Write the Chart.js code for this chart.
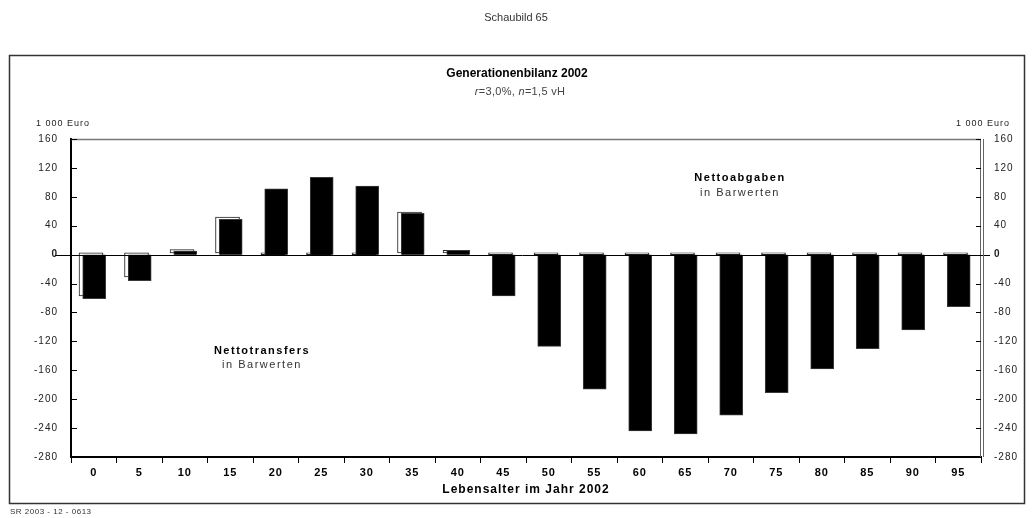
<!DOCTYPE html>
<html><head><meta charset="utf-8">
<script src="https://cdn.jsdelivr.net/npm/chart.js@4.4.0/dist/chart.umd.min.js"></script>
<style>html,body{margin:0;padding:0;background:#fff}#wrap{position:relative;width:1032px;height:518px}</style>
</head><body><div id="wrap"><canvas id="c" width="1032" height="518"></canvas></div>
<script>
// ---- data ----
const ageLabels = ['0','5','10','15','20','25','30','35','40','45','50','55','60','65','70','75','80','85','90','95'];
const nettoBlack = [-61,-36,5,49,91,107,95,57,6,-57,-127,-186,-244,-248,-222,-191,-158,-130,-104,-72];
const nettoWhite = [-57,-31,7,52,0,0,0,59,6,0,0,0,0,0,0,0,0,0,0,0];
const yTickValues = [160,120,80,40,0,-40,-80,-120,-160,-200,-240,-280];
const texts = {
  header: 'Schaubild 65',
  title: 'Generationenbilanz 2002',
  unit: '1 000 Euro',
  xTitle: 'Lebensalter im Jahr 2002',
  posLabel: 'Nettoabgaben',
  negLabel: 'Nettotransfers',
  subLabel: 'in Barwerten',
  code: 'SR 2003 - 12 - 0613'
};

// ---- style constants ----
const FONT = "'Liberation Sans', Arial, sans-serif";
const WHITE_SHIFT = -0.06, BLACK_SHIFT = 0.01, WHITE_BASE = 2.5;

Chart.defaults.font.family = FONT;

const decor = {
  id: 'decor',
  beforeLayout(chart){ chart.ctx.letterSpacing = '1px'; },
  beforeDraw(chart){
    const c = chart.ctx;
    c.save();
    c.fillStyle = '#fff'; c.fillRect(0,0,chart.width,chart.height);
    c.strokeStyle = '#333'; c.lineWidth = 1.5;
    c.strokeRect(9.5, 55.5, 1015, 448);
    c.restore();
  },
  afterDatasetsDraw(chart){
    const c = chart.ctx, a = chart.chartArea, y = chart.scales.y;
    c.save();
    const z = Math.round(y.getPixelForValue(0)) + 0.5;
    c.strokeStyle = '#000'; c.lineWidth = 1;
    c.beginPath(); c.moveTo(a.left - 16, z); c.lineTo(a.right + 9, z); c.stroke();
    c.strokeStyle = '#777'; c.lineWidth = 1.5;
    c.beginPath(); c.moveTo(a.left, a.top + 0.5); c.lineTo(a.right, a.top + 0.5); c.stroke();
    c.strokeStyle = '#666'; c.lineWidth = 1;
    c.beginPath(); c.moveTo(a.right - 0.5, a.top); c.lineTo(a.right - 0.5, a.bottom);
    c.moveTo(a.right + 2.5, a.top); c.lineTo(a.right + 2.5, a.bottom); c.stroke();
    c.strokeStyle = '#000'; c.lineWidth = 1;
    c.beginPath();
    y.ticks.forEach(t => {
      const p = Math.round(y.getPixelForValue(t.value)) + 0.5;
      c.moveTo(a.left, p); c.lineTo(a.left + 6, p);
      c.moveTo(a.right - 5, p); c.lineTo(a.right, p);
    });
    c.stroke();
    c.restore();
  },
  afterDraw(chart){
    const c = chart.ctx;
    c.save();
    c.textBaseline = 'middle';
    c.fillStyle = '#333';
    c.letterSpacing = '0px';
    c.textAlign = 'center';
    c.font = "11px " + FONT;
    c.fillText(texts.header, 516, 18);
    c.fillStyle = '#000';
    c.font = "bold 12px " + FONT;
    c.letterSpacing = '0px';
    c.fillText(texts.title, 517, 74);
    c.fillStyle = '#444';
    c.letterSpacing = '0.3px';
    const parts = [['italic 11px ', 'r'], ['11px ', '=3,0%, '], ['italic 11px ', 'n'], ['11px ', '=1,5 vH']];
    let w = 0;
    parts.forEach(p => { c.font = p[0] + FONT; w += c.measureText(p[1]).width; });
    let x = 520 - w/2;
    c.textAlign = 'left';
    parts.forEach(p => { c.font = p[0] + FONT; c.fillText(p[1], x, 92); x += c.measureText(p[1]).width; });
    c.fillStyle = '#222';
    c.font = "9px " + FONT;
    c.letterSpacing = '1px';
    c.textAlign = 'left';
    c.fillText(texts.unit, 36, 124);
    c.textAlign = 'right';
    c.fillText(texts.unit, 1010, 124);
    c.textAlign = 'center';
    c.fillStyle = '#000';
    c.font = "bold 11px " + FONT;
    c.letterSpacing = '1.5px';
    c.fillText(texts.posLabel, 740, 178);
    c.fillText(texts.negLabel, 262, 351);
    c.fillStyle = '#333';
    c.font = "11px " + FONT;
    c.letterSpacing = '1.5px';
    c.fillText(texts.subLabel, 740, 193);
    c.fillText(texts.subLabel, 262, 365);
    c.textAlign = 'left';
    c.fillStyle = '#333';
    c.font = "8px " + FONT;
    c.letterSpacing = '0.5px';
    c.fillText(texts.code, 10, 512);
    c.restore();
  }
};

new Chart(document.getElementById('c'), {
  type: 'bar',
  data: {
    labels: ageLabels,
    datasets: [
      { label: 'schwarz', data: nettoBlack.map((v,i) => ({x: i + BLACK_SHIFT, y: v})),
        xAxisID: 'xl', yAxisID: 'y', backgroundColor: '#000', borderColor: '#3a3a3a', borderWidth: 1,
        barThickness: 23, grouped: false, order: 0 },
      { label: 'weiss', data: nettoWhite.map((v,i) => ({x: i + WHITE_SHIFT, y: v})),
        xAxisID: 'xl', yAxisID: 'y', base: WHITE_BASE, backgroundColor: '#fff', borderColor: '#222', borderWidth: 1,
        borderSkipped: false, barThickness: 24, grouped: false, order: 1 }
    ]
  },
  options: {
    responsive: false, animation: false, devicePixelRatio: 1,
    layout: { padding: { top: 139, bottom: 21, left: 0, right: 0 } },
    plugins: { legend: { display: false }, tooltip: { enabled: false }, title: { display: false } },
    scales: {
      x: { type: 'category', position: 'bottom', offset: true,
        grid: { display: true, drawOnChartArea: false, drawTicks: true, tickLength: 6, offset: true, color: '#000', lineWidth: 1 },
        border: { display: true, color: '#000', width: 2 },
        ticks: { color: '#000', padding: 3, font: { size: 11, weight: 'bold' }, maxRotation: 0, autoSkip: false },
        title: { display: true, text: texts.xTitle, color: '#000', font: { size: 12, weight: 'bold' }, padding: { top: 1, bottom: 0 } },
        afterFit: s => { s.height = 40; } },
      xl: { type: 'linear', display: false, offset: false, bounds: 'data', min: -0.5, max: ageLabels.length - 0.5,
        afterDataLimits: s => { s.min = -0.5; s.max = ageLabels.length - 0.5; } },
      y: { type: 'linear', position: 'left', min: -280, max: 160,
        afterBuildTicks: s => { s.ticks = yTickValues.map(v => ({value: v})); },
        grid: { display: false, drawTicks: false }, border: { display: true, color: '#000', width: 2 },
        ticks: { color: '#222', padding: 13, font: c => ({ size: 10, weight: c.tick && c.tick.value === 0 ? 'bold' : 'normal' }), callback: v => String(v) },
        afterFit: s => { s.width = 71; } },
      y2: { type: 'linear', position: 'right', min: -280, max: 160,
        afterBuildTicks: s => { s.ticks = yTickValues.map(v => ({value: v})); },
        grid: { display: false, drawTicks: false }, border: { display: false },
        ticks: { color: '#222', padding: 13, font: c => ({ size: 10, weight: c.tick && c.tick.value === 0 ? 'bold' : 'normal' }), callback: v => String(v) },
        afterFit: s => { s.width = 51; } }
    }
  },
  plugins: [decor]
});
</script></body></html>
